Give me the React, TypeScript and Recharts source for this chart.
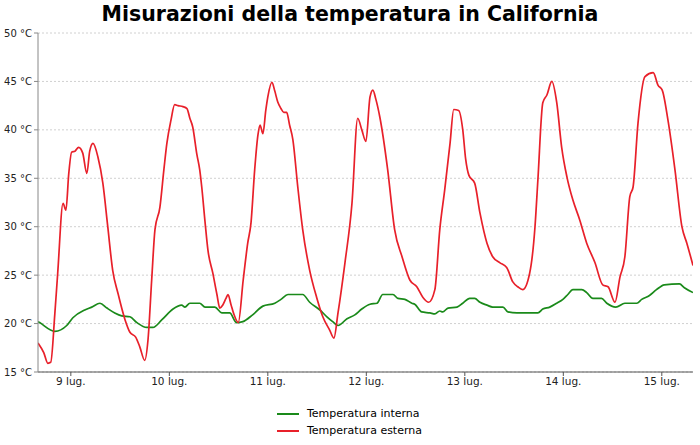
import { CartesianGrid, Legend, Line, LineChart, XAxis, YAxis } from "recharts";

// hours since 9 lug. 00:00
const TICKS_HOURS = [0, 24, 48, 72, 96, 120, 144];
const TICK_DAYS = ["9 lug.", "10 lug.", "11 lug.", "12 lug.", "13 lug.", "14 lug.", "15 lug."];
const Y_TICKS = [15, 20, 25, 30, 35, 40, 45, 50];

const INSIDE_HOURS = [
  -8, -7.6, -3.9, -1.0, 0.5, 3.4, 5.1, 7.1, 8.8, 10.7, 12.4, 14.4, 16.1, 18.5, 20.0, 22.2, 24.9, 27.0,
  27.8, 29.0, 31.4, 32.7, 35.1, 36.8, 38.7, 40.4, 41.9, 44.3, 46.8, 49.7, 51.2, 52.9, 56.5, 58.2, 60.7,
  62.4, 63.8, 65.1, 67.3, 69.2, 70.9, 72.9, 74.6, 76.0, 78.5, 79.7, 81.4, 83.1, 83.8, 85.5, 87.5, 88.7,
  89.9, 90.6, 91.9, 94.1, 95.5, 97.2, 98.4, 99.7, 101.4, 102.8, 105.3, 106.5, 108.7, 113.1, 113.8, 115.0,
  116.7, 118.4, 119.9, 121.1, 122.3, 124.5, 125.7, 127.2, 129.3, 130.6, 132.8, 135.0, 137.9, 139.1, 141.0,
  142.7, 144.6, 148.3, 149.5, 151.6,
];
const INSIDE_TEMPS = [
  20.2, 20.1, 19.2, 19.8, 20.6, 21.4, 21.7, 22.1, 21.6, 21.1, 20.8, 20.7, 20.1, 19.6, 19.6, 20.4, 21.5, 21.9,
  21.7, 22.1, 22.1, 21.7, 21.7, 21.1, 21.1, 20.1, 20.2, 20.9, 21.8, 22.1, 22.5, 23.0, 23.0, 22.2, 21.4,
  20.7, 20.2, 19.8, 20.5, 20.9, 21.5, 22.0, 22.1, 23.0, 23.0, 22.6, 22.5, 22.1, 22.0, 21.2, 21.1, 21.0,
  21.3, 21.2, 21.6, 21.7, 22.1, 22.6, 22.6, 22.2, 21.9, 21.7, 21.7, 21.2, 21.1, 21.1, 21.1, 21.5,
  21.7, 22.1, 22.5, 23.0, 23.5, 23.5, 23.2, 22.6, 22.6, 22.1, 21.7, 22.1, 22.1, 22.5, 22.9,
  23.5, 24.0, 24.1, 23.7, 23.2,
];

const OUTSIDE_HOURS = [
  -8, -6.6, -5.6, -4.9, -3.9, -3.2, -1.9, -1.2, -0.5, 0.2, 1.0, 1.9, 2.9, 3.9, 4.6, 5.4, 6.6, 7.8, 9.0,
  10.2, 11.5, 13.2, 14.4, 15.8, 16.8, 18.0, 18.8, 19.7, 20.5, 21.7, 22.7, 23.4, 24.4, 25.3, 26.1, 27.3,
  28.3, 29.0, 29.7, 30.7, 31.4, 31.9, 32.7, 33.4, 34.6, 35.6, 36.3, 37.0, 37.8, 38.3, 39.0, 39.7, 40.8,
  42.0, 43.1, 43.9, 44.8, 45.6, 46.1, 46.8, 47.5, 48.0, 49.0, 49.7, 50.4, 51.2, 51.9, 52.6, 53.3, 54.1,
  55.3, 56.5, 58.2, 59.9, 61.4, 63.1, 64.1, 65.1, 66.8, 68.5, 69.9, 70.9, 71.9, 72.9, 73.6, 74.3, 75.3,
  77.2, 78.9, 80.7, 82.6, 84.3, 85.8, 87.2, 88.7, 89.9, 91.1, 92.4, 93.3, 94.5, 95.5, 96.2, 97.0, 98.4,
  99.7, 101.4, 102.8, 104.5, 106.2, 107.7, 108.9, 110.1, 111.8, 113.1, 113.8, 115.0, 116.0, 117.2, 118.4,
  119.6, 120.9, 122.3, 124.0, 125.7, 127.7, 129.6, 130.9, 132.6, 133.8, 135.0, 136.2, 137.0, 138.2, 139.9,
  141.9, 143.1, 144.1, 145.5, 147.2, 148.9, 150.1, 151.6,
];
const OUTSIDE_TEMPS = [
  18.0, 17.0, 15.9, 16.0, 21.0, 25.2, 32.4, 31.7, 35.5, 37.7, 37.8, 38.2, 37.6, 35.5, 37.8, 38.6, 37.2, 34.5, 30.0,
  25.5, 23.1, 20.4, 19.1, 18.6, 17.6, 16.2, 18.3, 24.5, 29.7, 32.0, 36.0, 38.6, 41.0, 42.6, 42.5, 42.4,
  42.2, 41.2, 40.3, 37.5, 35.9, 34.1, 30.5, 27.6, 25.2, 23.0, 21.6, 21.9, 22.6, 23.0, 22.0, 21.0, 20.1,
  24.5, 28.3, 30.4, 35.9, 39.5, 40.5, 39.6, 42.0, 43.4, 44.9, 44.0, 42.9, 42.2, 41.8, 41.8, 40.5, 39.0,
  34.1, 29.7, 25.5, 22.7, 20.7, 19.3, 18.5, 21.1, 26.3, 32.4, 41.2, 40.0, 38.8, 43.4, 44.1, 43.2, 41.3,
  35.9, 29.7, 26.9, 24.5, 23.8, 22.7, 22.2, 23.5, 29.7, 33.8, 38.6, 42.1, 42.0, 40.0, 37.0, 35.3, 34.5,
  31.4, 28.3, 26.9, 26.3, 25.8, 24.3, 23.8, 23.5, 25.2, 30.0, 34.8, 42.8, 43.6, 45.0, 42.8,
  38.2, 35.1, 32.8, 30.7, 28.3, 26.3, 24.0, 23.8, 22.2, 24.8, 26.9, 33.1, 34.1, 40.7, 45.5,
  45.9, 44.6, 44.1, 41.0, 35.9, 30.0, 28.3, 26.0,
];

const SERIES = [
  { name: "Temperatura interna", color: "#1a8a1a", hours: INSIDE_HOURS, temps: INSIDE_TEMPS },
  { name: "Temperatura esterna", color: "#e8202a", hours: OUTSIDE_HOURS, temps: OUTSIDE_TEMPS },
];

const FONT = '"DejaVu Sans", sans-serif';

function LegendBox() {
  return (
    <div style={{ display: "flex", justifyContent: "center", fontFamily: FONT, fontSize: 11, color: "#000" }}>
      <div style={{ paddingLeft: 6 }}>
        {SERIES.map((s) => (
          <div key={s.name} style={{ display: "flex", alignItems: "center", height: 17 }}>
            <span style={{ display: "inline-block", width: 22, height: 2, background: s.color, marginRight: 8 }} />
            {s.name}
          </div>
        ))}
      </div>
    </div>
  );
}

export default function App() {
  return (
    <div style={{ position: "absolute", top: 0, left: 0, width: 700, height: 445, background: "#fff" }}>
      <LineChart width={700} height={445} margin={{ top: 33, right: 7, bottom: 6, left: 0 }}>
        <CartesianGrid horizontal vertical={false} stroke="#d0d0d0" strokeDasharray="2 2" />
        <XAxis
          type="number"
          dataKey="h"
          domain={[-8, 151.6]}
          allowDataOverflow
          ticks={TICKS_HOURS}
          tickFormatter={(v: number) => TICK_DAYS[TICKS_HOURS.indexOf(v)]}
          stroke="#555"
          tick={{ fill: "#222", fontSize: 10.5, fontFamily: FONT }}
          tickSize={4}
          height={33}
        />
        <YAxis
          type="number"
          domain={[15, 50]}
          ticks={Y_TICKS}
          tickFormatter={(v: number) => `${v} °C`}
          stroke="#888"
          tick={{ fill: "#222", fontSize: 10, fontFamily: FONT }}
          tickSize={4}
          width={38}
        />
        <Legend verticalAlign="bottom" content={() => <LegendBox />} />
        {SERIES.map((s) => (
          <Line
            key={s.name}
            data={s.hours.map((h, i) => ({ h, t: s.temps[i] }))}
            dataKey="t"
            name={s.name}
            type="monotone"
            stroke={s.color}
            strokeWidth={1.7}
            dot={false}
            isAnimationActive={false}
          />
        ))}
      </LineChart>
      <div
        style={{
          position: "absolute",
          top: 4,
          left: 0,
          width: 700,
          zIndex: 2,
          textAlign: "center",
          fontFamily: FONT,
          fontWeight: "bold",
          fontSize: 20.5,
          lineHeight: 1,
          color: "#000",
        }}
      >
        Misurazioni della temperatura in California
      </div>
    </div>
  );
}
